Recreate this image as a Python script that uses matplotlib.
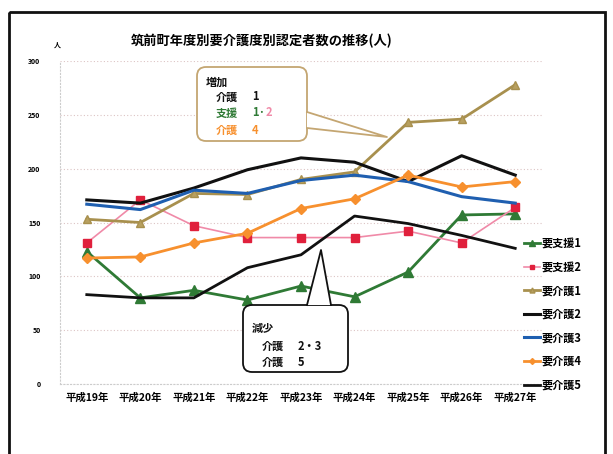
import matplotlib
matplotlib.use("Agg")
import matplotlib.pyplot as plt
from matplotlib.patches import FancyBboxPatch, Polygon, Rectangle

plt.rcParams["font.family"] = ["Noto Sans CJK JP", "DejaVu Sans"]

years = ["平成19年", "平成20年", "平成21年", "平成22年", "平成23年",
         "平成24年", "平成25年", "平成26年", "平成27年"]

shien1 = [123, 80, 87, 78, 91, 81, 104, 157, 158]
shien2 = [131, 171, 147, 136, 136, 136, 142, 131, 164]
kaigo1 = [153, 150, 177, 176, 190, 197, 243, 246, 278]
kaigo2 = [171, 168, 182, 199, 210, 206, 188, 212, 194]
kaigo3 = [167, 162, 180, 177, 189, 194, 188, 174, 168]
kaigo4 = [117, 118, 131, 140, 163, 172, 194, 183, 188]
kaigo5 = [83, 80, 80, 108, 120, 156, 149, 138, 126]

series = [
    ("要支援1", shien1, dict(color="#2f7a35", lw=2.0, marker="^", ms=7, mfc="#2f7a35", mec="#2f7a35")),
    ("要支援2", shien2, dict(color="#f08aa8", lw=1.2, marker="s", ms=5.5, mfc="#e0203c", mec="#e0203c")),
    ("要介護1", kaigo1, dict(color="#a8904e", lw=2.0, marker="^", ms=6, mfc="#b8a060", mec="#a8904e")),
    ("要介護2", kaigo2, dict(color="#111111", lw=2.2)),
    ("要介護3", kaigo3, dict(color="#1f5fb0", lw=2.2)),
    ("要介護4", kaigo4, dict(color="#f7902e", lw=2.0, marker="D", ms=5, mfc="#f7902e", mec="#f7902e")),
    ("要介護5", kaigo5, dict(color="#111111", lw=2.0)),
]

W, H = 613, 454
fig = plt.figure(figsize=(W / 100, H / 100), dpi=100)
fig.patch.set_facecolor("white")

ax = fig.add_axes([60 / W, 1 - 384 / H, 482 / W, 323 / H])
x = range(len(years))
for name, vals, style in series:
    ax.plot(x, vals, label=name, **style)

ax.set_xlim(-0.5, len(years) - 0.5)
ax.set_ylim(0, 300)
ax.set_yticks(range(0, 301, 50))
ax.set_xticks(list(x), years)
ax.tick_params(axis="x", length=0, labelsize=7.5, pad=6)
ax.tick_params(axis="y", length=0, labelsize=5, pad=14)
for lbl in ax.get_xticklabels() + ax.get_yticklabels():
    lbl.set_fontweight("bold")
ax.grid(axis="y", color="#dcc4c4", lw=0.8, ls=(0, (1, 2)))
for side in ["top", "right"]:
    ax.spines[side].set_visible(False)
for side in ["left", "bottom"]:
    ax.spines[side].set_color("#cccccc")
    ax.spines[side].set_linestyle((0, (1, 2)))
    ax.spines[side].set_linewidth(0.8)

ax.legend(loc="upper left", bbox_to_anchor=(0.845, 0.49), bbox_transform=fig.transFigure,
          frameon=False, handlelength=1.45, handletextpad=0.15, labelspacing=0.95,
          borderpad=0, prop={"size": 8, "weight": "bold"}, markerscale=0.6)

fig.text(262 / W, 1 - 41 / H, "筑前町年度別要介護度別認定者数の推移(人)",
         ha="center", va="center", fontsize=9.5, fontweight="bold")
fig.text(57 / W, 1 - 45 / H, "人", ha="center", va="center", fontsize=5, fontweight="bold")

# overlay in pixel units for the callouts and the outer frame
ov = fig.add_axes([0, 0, 1, 1], zorder=5)
ov.set_xlim(0, W)
ov.set_ylim(H, 0)
ov.axis("off")
ov.patch.set_alpha(0)

ov.add_patch(Rectangle((9, 12), 596, 460, fill=False, ec="#111111", lw=2, clip_on=False))


def callout(x0, y0, x1, y1, wedge, ec):
    box = FancyBboxPatch((x0, y0), x1 - x0, y1 - y0, boxstyle="round,pad=0,rounding_size=9",
                         fc="white", ec=ec, lw=1.3)
    ov.add_patch(box)
    (a, tip, b) = wedge
    ov.add_patch(Polygon([a, tip, b], closed=True, fc="white", ec="none"))
    ov.plot([a[0], tip[0], b[0]], [a[1], tip[1], b[1]], color=ec, lw=1.3)


callout(197, 67, 307, 141, [(307, 112), (387, 137), (307, 128)], "#c4a672")
callout(243, 305, 348, 372, [(307, 305), (321, 250), (331, 305)], "#111111")

tkw = dict(fontsize=8, fontweight="bold", va="center", ha="left")
ov.text(206, 82, "増加", color="#111111", **tkw)
ov.text(216, 97, "介護", color="#111111", **tkw)
ov.text(252, 97, "1", color="#111111", **tkw)
ov.text(216, 113, "支援", color="#2f7a35", **tkw)
ov.text(252, 113, "1·", color="#2f7a35", **tkw)
ov.text(266, 113, "2", color="#f08aa8", **tkw)
ov.text(216, 130, "介護", color="#f7902e", **tkw)
ov.text(252, 130, "4", color="#f7902e", **tkw)

ov.text(252, 328, "減少", color="#111111", **tkw)
ov.text(262, 346, "介護", color="#111111", **tkw)
ov.text(298, 346, "2・3", color="#111111", **tkw)
ov.text(262, 362, "介護", color="#111111", **tkw)
ov.text(298, 362, "5", color="#111111", **tkw)

fig.savefig("out.png", dpi=100)
